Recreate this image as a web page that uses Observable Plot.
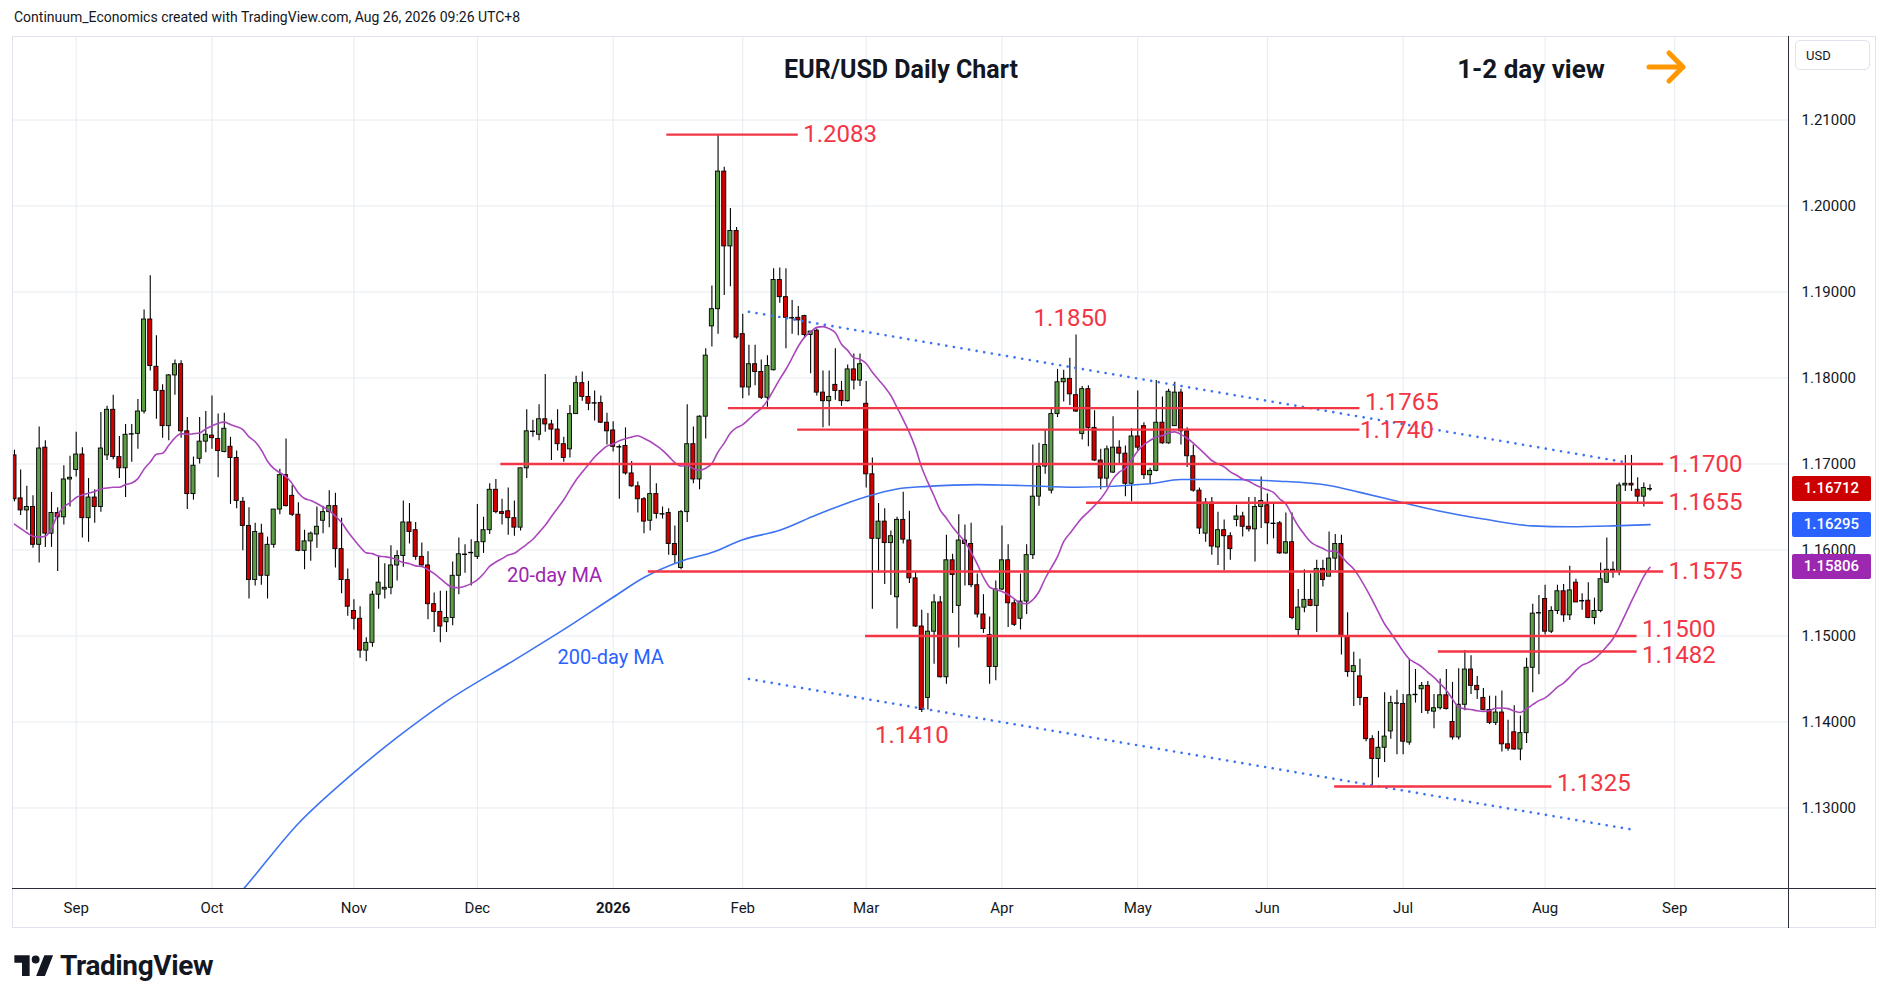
<!DOCTYPE html>
<html><head><meta charset="utf-8">
<script src="https://cdn.jsdelivr.net/npm/d3@7"></script>
<script src="https://cdn.jsdelivr.net/npm/@observablehq/plot@0.6"></script>
<style>
body{margin:0;background:#fff;font-family:Roboto,"Liberation Sans",sans-serif;color:#131722}
#wrap{position:relative;width:1889px;height:1003px;overflow:hidden;background:#fff}
.abs{position:absolute;white-space:nowrap}
</style></head><body>
<div id="wrap"></div>
<script>
// ---- trading calendar (weekdays, minus holidays without a bar) ----
const firstBar = "2025-08-18";
const calendarEnd = "2026-09-30";
const holidays = ["2025-12-25", "2026-01-01"];

// ---- daily OHLC, EUR/USD (one row per month) ----
const opens = [
 1.1710,1.1660,1.1646,1.1650,1.1606,1.1719,1.1619,1.1643,1.1638,1.1682,
 1.1693,1.1711,1.1637,1.1661,1.1650,1.1710,1.1763,1.1708,1.1695,1.1735,1.1735,1.1761,1.1868,1.1813,1.1785,1.1744,1.1803,1.1816,1.1738,1.1665,1.1706,1.1726,
 1.1733,1.1729,1.1714,1.1720,1.1707,1.1656,1.1628,1.1565,1.1619,1.1570,1.1606,1.1647,1.1687,1.1663,1.1641,1.1599,1.1610,1.1618,1.1634,1.1644,1.1651,1.1601,1.1565,
 1.1529,1.1520,1.1483,1.1492,1.1548,1.1554,1.1556,1.1582,1.1593,1.1632,1.1623,1.1592,1.1582,1.1537,1.1528,1.1516,1.1521,1.1570,1.1595,1.1596,
 1.1592,1.1609,1.1623,1.1670,1.1644,1.1645,1.1637,1.1626,1.1695,1.1737,1.1734,1.1752,1.1746,1.1740,1.1723,1.1717,1.1758,1.1794,1.1778,1.1771,1.1771,1.1748,
 1.1739,1.1721,1.1721,1.1689,1.1674,1.1659,1.1634,1.1665,1.1643,1.1643,1.1607,1.1579,1.1644,1.1723,1.1682,1.1755,1.1860,1.1880,1.2040,1.1953,1.1971,
 1.1851,1.1789,1.1816,1.1807,1.1777,1.1809,1.1914,1.1894,1.1871,1.1870,1.1872,1.1850,1.1855,1.1783,1.1773,1.1792,1.1785,1.1773,1.1810,1.1797,
 1.1770,1.1688,1.1613,1.1633,1.1608,1.1545,1.1635,1.1611,1.1567,1.1511,1.1428,1.1505,1.1539,1.1452,1.1588,1.1535,1.1611,1.1607,1.1559,1.1525,1.1501,1.1464,
 1.1554,1.1588,1.1538,1.1520,1.1540,1.1594,1.1662,1.1697,1.1669,1.1758,1.1795,1.1799,1.1780,1.1735,1.1787,1.1742,1.1704,1.1683,1.1690,1.1719,1.1712,1.1677,
 1.1732,1.1744,1.1687,1.1692,1.1748,1.1724,1.1744,1.1783,1.1738,1.1709,1.1669,1.1619,1.1655,1.1603,1.1623,1.1616,1.1635,1.1639,1.1627,1.1624,1.1650,
 1.1652,1.1631,1.1631,1.1596,1.1609,1.1507,1.1533,1.1542,1.1535,1.1578,1.1569,1.1590,1.1607,1.1500,1.1458,1.1453,1.1428,1.1380,1.1357,1.1370,1.1389,1.1422,
 1.1421,1.1376,1.1432,1.1438,1.1442,1.1412,1.1416,1.1431,1.1400,1.1382,1.1420,1.1461,1.1442,1.1428,1.1414,1.1399,1.1411,1.1374,1.1388,1.1368,1.1387,1.1463,1.1527,
 1.1543,1.1505,1.1529,1.1552,1.1524,1.1562,1.1541,1.1541,1.1521,1.1529,1.1562,1.1577,1.1575,1.1675,1.1677,1.1670,1.1662,1.1672
];
const highs = [
 1.1716,1.1693,1.1674,1.1663,1.1743,1.1727,1.1667,1.1649,1.1698,1.1709,
 1.1737,1.1719,1.1683,1.1670,1.1760,1.1767,1.1780,1.1732,1.1746,1.1746,1.1775,1.1879,1.1919,1.1849,1.1792,1.1804,1.1821,1.1820,1.1754,1.1708,1.1754,1.1761,
 1.1779,1.1758,1.1759,1.1731,1.1715,1.1661,1.1649,1.1631,1.1630,1.1615,1.1647,1.1694,1.1729,1.1675,1.1655,1.1623,1.1621,1.1650,1.1651,1.1669,1.1666,1.1637,1.1578,
 1.1542,1.1534,1.1498,1.1552,1.1593,1.1584,1.1605,1.1599,1.1657,1.1654,1.1632,1.1608,1.1598,1.1550,1.1552,1.1552,1.1586,1.1614,1.1606,1.1612,
 1.1653,1.1638,1.1677,1.1682,1.1659,1.1672,1.1657,1.1695,1.1763,1.1751,1.1769,1.1804,1.1751,1.1763,1.1731,1.1768,1.1802,1.1807,1.1796,1.1785,1.1779,1.1759,
 1.1749,1.1722,1.1742,1.1703,1.1679,1.1661,1.1698,1.1677,1.1650,1.1648,1.1628,1.1646,1.1769,1.1743,1.1756,1.1834,1.1907,1.2083,1.2045,1.1997,1.1975,
 1.1874,1.1838,1.1838,1.1821,1.1826,1.1927,1.1928,1.1927,1.1890,1.1883,1.1873,1.1854,1.1857,1.1808,1.1808,1.1834,1.1796,1.1815,1.1828,1.1828,
 1.1796,1.1707,1.1654,1.1648,1.1622,1.1638,1.1667,1.1645,1.1575,1.1530,1.1526,1.1548,1.1546,1.1617,1.1595,1.1641,1.1629,1.1631,1.1572,1.1548,1.1522,1.1564,
 1.1628,1.1606,1.1542,1.1572,1.1606,1.1722,1.1724,1.1740,1.1765,1.1810,1.1809,1.1823,1.1850,1.1790,1.1791,1.1762,1.1717,1.1721,1.1755,1.1727,1.1721,1.1741,
 1.1785,1.1748,1.1695,1.1797,1.1778,1.1787,1.1795,1.1787,1.1742,1.1722,1.1672,1.1660,1.1661,1.1644,1.1635,1.1620,1.1652,1.1644,1.1661,1.1661,1.1685,
 1.1665,1.1655,1.1633,1.1643,1.1643,1.1554,1.1577,1.1572,1.1588,1.1588,1.1621,1.1618,1.1617,1.1527,1.1481,1.1473,1.1428,1.1384,1.1389,1.1434,1.1430,1.1437,
 1.1432,1.1473,1.1461,1.1446,1.1447,1.1432,1.1450,1.1461,1.1446,1.1462,1.1483,1.1477,1.1453,1.1439,1.1430,1.1430,1.1436,1.1402,1.1419,1.1407,1.1474,1.1537,1.1547,
 1.1559,1.1534,1.1559,1.1560,1.1581,1.1566,1.1549,1.1562,1.1544,1.1585,1.1614,1.1586,1.1678,1.1710,1.1710,1.1684,1.1678,1.1676
];
const lows = [
 1.1656,1.1640,1.1623,1.1602,1.1585,1.1603,1.1603,1.1575,1.1629,1.1650,
 1.1685,1.1614,1.1609,1.1631,1.1644,1.1704,1.1705,1.1683,1.1661,1.1702,1.1717,1.1758,1.1808,1.1752,1.1730,1.1727,1.1780,1.1730,1.1647,1.1658,1.1700,1.1713,
 1.1717,1.1684,1.1713,1.1653,1.1648,1.1599,1.1543,1.1558,1.1559,1.1543,1.1602,1.1641,1.1650,1.1639,1.1598,1.1577,1.1587,1.1602,1.1619,1.1626,1.1579,1.1549,1.1523,
 1.1507,1.1474,1.1470,1.1487,1.1531,1.1543,1.1548,1.1564,1.1580,1.1607,1.1588,1.1581,1.1519,1.1504,1.1492,1.1504,1.1512,1.1548,1.1573,1.1558,
 1.1589,1.1596,1.1618,1.1642,1.1629,1.1617,1.1616,1.1622,1.1683,1.1731,1.1727,1.1737,1.1704,1.1715,1.1702,1.1707,1.1758,1.1773,1.1762,1.1750,1.1747,1.1722,
 1.1714,1.1659,1.1687,1.1673,1.1643,1.1619,1.1622,1.1636,1.1636,1.1594,1.1584,1.1577,1.1632,1.1677,1.1670,1.1729,1.1836,1.1851,1.1896,1.1906,1.1845,
 1.1776,1.1779,1.1791,1.1775,1.1766,1.1808,1.1887,1.1834,1.1851,1.1849,1.1847,1.1805,1.1779,1.1742,1.1744,1.1774,1.1767,1.1772,1.1786,1.1790,
 1.1672,1.1531,1.1573,1.1560,1.1547,1.1508,1.1607,1.1561,1.1510,1.1411,1.1414,1.1467,1.1451,1.1444,1.1526,1.1486,1.1558,1.1556,1.1521,1.1503,1.1444,1.1448,
 1.1553,1.1510,1.1511,1.1507,1.1525,1.1589,1.1651,1.1688,1.1665,1.1754,1.1772,1.1768,1.1760,1.1728,1.1720,1.1703,1.1670,1.1673,1.1689,1.1699,1.1662,1.1656,
 1.1715,1.1682,1.1677,1.1691,1.1723,1.1723,1.1744,1.1722,1.1696,1.1667,1.1618,1.1609,1.1594,1.1582,1.1576,1.1588,1.1627,1.1615,1.1621,1.1586,1.1625,
 1.1606,1.1613,1.1595,1.1595,1.1519,1.1500,1.1527,1.1534,1.1504,1.1557,1.1569,1.1576,1.1478,1.1452,1.1418,1.1419,1.1377,1.1326,1.1335,1.1353,1.1380,1.1362,
 1.1362,1.1373,1.1422,1.1410,1.1409,1.1392,1.1414,1.1414,1.1379,1.1379,1.1413,1.1432,1.1426,1.1413,1.1397,1.1396,1.1365,1.1366,1.1367,1.1355,1.1375,1.1434,1.1455,
 1.1501,1.1503,1.1525,1.1516,1.1518,1.1539,1.1530,1.1520,1.1513,1.1527,1.1561,1.1567,1.1570,1.1668,1.1668,1.1655,1.1650,1.1668
];
const closes = [
 1.1659,1.1646,1.1650,1.1606,1.1718,1.1619,1.1643,1.1638,1.1682,1.1684,
 1.1711,1.1637,1.1661,1.1650,1.1718,1.1763,1.1708,1.1695,1.1734,1.1735,1.1761,1.1868,1.1814,1.1785,1.1744,1.1803,1.1816,1.1738,1.1665,1.1698,1.1726,1.1734,
 1.1730,1.1715,1.1741,1.1707,1.1657,1.1628,1.1565,1.1621,1.1570,1.1606,1.1647,1.1687,1.1651,1.1641,1.1599,1.1610,1.1619,1.1627,1.1644,1.1651,1.1601,1.1565,1.1534,
 1.1520,1.1483,1.1492,1.1548,1.1562,1.1556,1.1582,1.1593,1.1632,1.1621,1.1592,1.1582,1.1537,1.1528,1.1511,1.1521,1.1570,1.1595,1.1595,1.1597,
 1.1609,1.1623,1.1670,1.1644,1.1642,1.1637,1.1626,1.1695,1.1738,1.1738,1.1752,1.1746,1.1740,1.1723,1.1707,1.1758,1.1794,1.1778,1.1770,1.1771,1.1748,1.1738,
 1.1720,1.1720,1.1689,1.1674,1.1659,1.1633,1.1665,1.1642,1.1642,1.1607,1.1594,1.1644,1.1723,1.1682,1.1755,1.1826,1.1880,1.2040,1.1953,1.1971,1.1847,
 1.1789,1.1816,1.1807,1.1777,1.1814,1.1914,1.1894,1.1870,1.1870,1.1867,1.1850,1.1854,1.1783,1.1773,1.1778,1.1785,1.1773,1.1810,1.1797,1.1816,
 1.1688,1.1613,1.1633,1.1608,1.1616,1.1635,1.1612,1.1567,1.1511,1.1414,1.1505,1.1539,1.1452,1.1588,1.1571,1.1611,1.1607,1.1559,1.1525,1.1508,1.1464,1.1554,
 1.1588,1.1538,1.1513,1.1540,1.1594,1.1662,1.1697,1.1722,1.1758,1.1795,1.1799,1.1781,1.1761,1.1787,1.1742,1.1704,1.1683,1.1717,1.1719,1.1712,1.1677,1.1732,
 1.1719,1.1687,1.1692,1.1748,1.1724,1.1784,1.1783,1.1738,1.1709,1.1669,1.1625,1.1655,1.1604,1.1623,1.1616,1.1601,1.1639,1.1627,1.1624,1.1650,1.1657,
 1.1631,1.1631,1.1596,1.1609,1.1521,1.1533,1.1542,1.1535,1.1578,1.1565,1.1590,1.1607,1.1500,1.1458,1.1465,1.1428,1.1380,1.1357,1.1370,1.1383,1.1422,1.1422,
 1.1377,1.1431,1.1432,1.1442,1.1413,1.1416,1.1431,1.1415,1.1382,1.1420,1.1461,1.1442,1.1437,1.1414,1.1399,1.1411,1.1374,1.1369,1.1368,1.1387,1.1463,1.1526,1.1527,
 1.1505,1.1529,1.1552,1.1524,1.1553,1.1539,1.1541,1.1521,1.1529,1.1566,1.1577,1.1575,1.1675,1.1677,1.1675,1.1662,1.1672,1.16712
];

// 20-day MA over the first 19 bars (history before the window)
const ma20Lead = [1.1630,1.1625,1.1620,1.1616,1.1615,1.1616,1.1625,1.1641,1.1650,1.1655,1.1661,1.1664,1.1666,1.1668,1.1671,1.1672,1.1673,1.1673,1.1676];

// 200-day MA at these bar numbers
const ma200Bar = [30,37,46,54,62,70,81,90,97,102,108,113,118,124,130,138,143,148,156,163,172,184,189,195,205,213,218,225,231,238,246,252,259,265];
const ma200Val = [1.1150,1.1205,1.1282,1.1335,1.1382,1.1424,1.1472,1.1512,1.1545,1.1568,1.1587,1.1597,1.1612,1.1623,1.1641,1.1662,1.1671,1.1674,1.1676,1.1675,1.1673,1.1677,1.1682,1.1682,1.1680,1.1675,1.1667,1.1655,1.1645,1.1636,1.1628,1.1627,1.1628,1.16295];

// horizontal support / resistance levels (bar numbers where each line starts / ends)
const levelPrice = [1.2083,1.1765,1.1740,1.1700,1.1655,1.1575,1.1500,1.1482,1.1325];
const levelFrom  = [105.7,115.7,126.9,78.8,173.7,102.7,137.9,230.7,213.9];
const levelTo    = [127.0,218.0,218.0,267.2,267.2,267.2,262.9,262.9,249.1];
const levelLabelShift = [0,-6,1,0,0,0,-7,4,-3];   // label nudges so close labels do not collide
const levelLabelGap   = [5,5,0,5,5,5,5,5,5];

// extreme labels without a line
const peakText  = ["1.1850","1.1410"];
const peakBar   = [171.1,145.4];
const peakPrice = [1.18692,1.13844];

// dotted channel
const channelBar   = [119, 261, 119, 262];
const channelPrice = [1.1877, 1.1702, 1.1450, 1.1275];
const channelName  = ["upper","upper","lower","lower"];

// MA captions
const maText  = ["20-day MA","200-day MA"];
const maBar   = [87.5, 96.6];
const maPrice = [1.1570, 1.1475];
const maColor = ["#9c27b0","#2962ff"];

// last-value tags on the price axis
const tagText  = ["1.16712","1.16295","1.15806"];
const tagValue = [1.16712,1.16295,1.15806];
const tagColor = ["#cc0000","#2962ff","#9c27b0"];

const yTicks = [1.13,1.14,1.15,1.16,1.17,1.18,1.19,1.20,1.21];

// ---------- build ----------
const parse = d3.utcParse("%Y-%m-%d");
const fmtDay = d3.utcFormat("%Y-%m-%d");
const cal = [];
for (let d = parse(firstBar); d <= parse(calendarEnd); d = d3.utcDay.offset(d, 1)) {
  const wd = d.getUTCDay();
  if (wd === 0 || wd === 6) continue;
  if (holidays.includes(fmtDay(d))) continue;
  cal.push(d);
}
const monthTicks = [];
for (let i = 1; i < cal.length; i++) {
  if (cal[i].getUTCMonth() !== cal[i-1].getUTCMonth()) {
    const isYear = cal[i].getUTCMonth() === 0;
    monthTicks.push({i, label: isYear ? String(cal[i].getUTCFullYear()) : d3.utcFormat("%b")(cal[i]), year: isYear});
  }
}

const candles = closes.map((c, i) => {
  const o = opens[i];
  return {i, date: cal[i], o, c, hi: Math.max(highs[i], o, c), lo: Math.min(lows[i], o, c)};
});
const bodies = candles.filter(d => Math.abs(d.o - d.c) >= 0.00012);
const dojis  = candles.filter(d => Math.abs(d.o - d.c) < 0.00012);

const ma20 = closes.map((c, i) => ({i, p: i < 19 ? ma20Lead[i] : d3.mean(closes.slice(i - 19, i + 1))}));
const ma200 = ma200Bar.map((b, k) => ({i: b, p: ma200Val[k]}));
const levels = levelPrice.map((p, k) => ({price: p, from: levelFrom[k], to: levelTo[k], shift: levelLabelShift[k], gap: levelLabelGap[k]}));
const peaks = peakText.map((t, k) => ({t, i: peakBar[k], p: peakPrice[k]}));
const channel = channelBar.map((b, k) => ({i: b, p: channelPrice[k], name: channelName[k]}));
const maLabels = maText.map((t, k) => ({t, i: maBar[k], p: maPrice[k], color: maColor[k]}));

const GREEN = "#5c9d46", RED = "#d10000", FONT = "Roboto, 'Liberation Sans', sans-serif";
const W = 1889, H = 1003;

const levelTextMarks = levels.map(d => Plot.text([d], {x: "to", y: "price", text: v => v.price.toFixed(4), dx: d.gap, dy: d.shift, textAnchor: "start", fill: "#f23645", fontSize: 24, fontFamily: FONT}));

const plot = Plot.plot({
  width: W, height: H,
  marginLeft: 12, marginRight: 100, marginTop: 36, marginBottom: 114,
  x: {type: "linear", domain: [-0.32, 287.6], axis: null},
  y: {type: "linear", domain: [1.12052, 1.21971], axis: null},
  style: {fontFamily: FONT, color: "#131722", background: "transparent", overflow: "visible"},
  marks: [
    Plot.gridY(yTicks, {stroke: "#e6ebf1", strokeOpacity: 1}),
    Plot.gridX(monthTicks.map(d => d.i), {stroke: "#e6ebf1", strokeOpacity: 1}),
    Plot.axisY(yTicks, {anchor: "right", tickSize: 0, tickPadding: 12, tickFormat: d => d.toFixed(5), fontSize: 15, label: null}),
    Plot.text(monthTicks.filter(d => !d.year), {x: "i", text: "label", frameAnchor: "bottom", dy: 23, fontSize: 15, fill: "#131722"}),
    Plot.text(monthTicks.filter(d => d.year), {x: "i", text: "label", frameAnchor: "bottom", dy: 23, fontSize: 15, fontWeight: "bold", fill: "#131722"}),
    // candles
    Plot.ruleX(candles, {x: "i", y1: "lo", y2: "hi", stroke: "#000", strokeWidth: 1.1, clip: true}),
    Plot.rect(bodies, {x1: d => d.i - 0.33, x2: d => d.i + 0.33, y1: "o", y2: "c", fill: d => d.c >= d.o ? GREEN : RED, stroke: "#000", strokeWidth: 0.9, clip: true}),
    Plot.ruleY(dojis, {y: "c", x1: d => d.i - 0.4, x2: d => d.i + 0.4, stroke: "#000", strokeWidth: 1.4, clip: true}),
    // moving averages
    Plot.line(ma200, {x: "i", y: "p", curve: "monotone-x", stroke: "#3d73f2", strokeWidth: 1.6, clip: true}),
    Plot.line(ma20, {x: "i", y: "p", curve: "monotone-x", stroke: "#ab47bc", strokeWidth: 1.6, clip: true}),
    // channel
    Plot.line(channel, {x: "i", y: "p", z: "name", stroke: "#3d73f2", strokeWidth: 2.6, strokeDasharray: "0.1,7.6", strokeLinecap: "round", clip: true}),
    // levels
    Plot.ruleY(levels, {y: "price", x1: "from", x2: "to", stroke: "#f23645", strokeWidth: 2.4}),
    ...levelTextMarks,
    Plot.text(peaks, {x: "i", y: "p", text: "t", fill: "#f23645", fontSize: 24, fontFamily: FONT}),
    Plot.text(maLabels, {x: "i", y: "p", text: "t", fill: d => d.color, fontSize: 20, fontFamily: FONT})
  ]
});

const wrap = document.getElementById("wrap");
plot.style.position = "absolute"; plot.style.left = "0px"; plot.style.top = "0px";
wrap.appendChild(plot);

function add(html, css) {
  const el = document.createElement("div");
  el.className = "abs"; el.innerHTML = html; Object.assign(el.style, css); wrap.appendChild(el); return el;
}
// chrome lines
add("", {left: "12px", top: "36px", width: "1864px", height: "892px", border: "1px solid #e0e3eb", boxSizing: "border-box"});
add("", {left: "12px", top: "888px", width: "1864px", height: "1px", background: "#2a2e39"});
add("", {left: "1788px", top: "36px", width: "1px", height: "892px", background: "#2a2e39"});

// price tags on axis
const ys = plot.scale("y");
tagText.forEach((t, k) => {
  const yc = ys.apply(tagValue[k]);
  add(t, {left: "1792px", top: (yc - 12.5) + "px", width: "79px", height: "25px", lineHeight: "25px", background: tagColor[k], color: "#fff", fontSize: "15px", fontWeight: "500", textAlign: "center", borderRadius: "2px", fontFamily: FONT});
});

// texts
add("Continuum_Economics created with TradingView.com, Aug 26, 2026 09:26 UTC+8", {left: "14px", top: "9px", fontSize: "14px", color: "#131722"});
add("EUR/USD Daily Chart", {left: "901px", top: "69px", transform: "translate(-50%,-50%)", fontSize: "25px", fontWeight: "bold", color: "#131722"});
add("1-2 day view", {left: "1531px", top: "69px", transform: "translate(-50%,-50%)", fontSize: "26px", fontWeight: "bold", color: "#131722"});
add('<svg width="44" height="38" viewBox="0 0 44 38"><path d="M4 19 H38 M24 5 L38 19 L24 33" fill="none" stroke="#ff9800" stroke-width="5" stroke-linecap="round" stroke-linejoin="round"/></svg>', {left: "1645px", top: "48px"});
add("USD", {left: "1795px", top: "40px", width: "75px", height: "30px", lineHeight: "30px", border: "1px solid #e0e3eb", borderRadius: "5px", boxSizing: "border-box", paddingLeft: "10px", fontSize: "13px", color: "#131722"});
add('<svg width="40" height="24" viewBox="0 0 36 22"><path d="M14 21H7V9H0V2h14v19z M28 21h-8l7.5-19h8L28 21z" fill="#131722"/><circle cx="19.5" cy="6" r="3.6" fill="#131722"/></svg>', {left: "14px", top: "953px"});
add("TradingView", {left: "60px", top: "965px", transform: "translateY(-50%)", fontSize: "28px", fontWeight: "bold", color: "#131722", letterSpacing: "-0.4px"});
</script>
</body></html>
